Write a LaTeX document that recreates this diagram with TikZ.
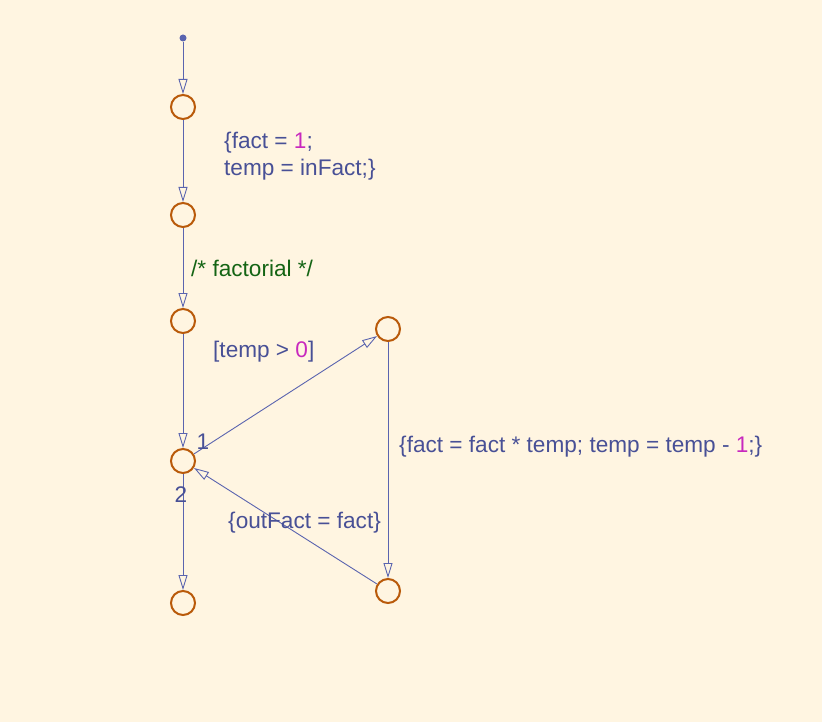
\documentclass[tikz,border=0pt]{standalone}
\usepackage{fontspec}
\setmainfont{Liberation Sans}
\usetikzlibrary{arrows.meta}
\definecolor{bg}{RGB}{255,245,225}
\definecolor{txt}{RGB}{72,80,150}
\definecolor{ln}{RGB}{90,100,175}
\definecolor{jn}{RGB}{185,90,10}
\definecolor{mag}{RGB}{200,40,190}
\definecolor{cmt}{RGB}{20,100,20}
\tikzset{
  junc/.style={circle,draw=jn,line width=2pt,minimum size=24pt,inner sep=0pt},
  tr/.style={draw=ln,line width=0.9pt,-{Triangle[open,length=15pt,width=9pt]}},
  lbl/.style={text=txt,inner sep=0pt,anchor=west,font=\fontsize{22.6}{26.5}\selectfont},
}
\begin{document}
\begin{tikzpicture}[x=1pt,y=-1pt]
\path[fill=bg,use as bounding box] (0,0) rectangle (822,722);
\node[circle,fill=ln,minimum size=7pt,inner sep=0pt] (dot) at (183,38) {};
\node[junc] (j1) at (183,107) {};
\node[junc] (j2) at (183,215) {};
\node[junc] (j3) at (183,321) {};
\node[junc] (j4) at (183,461) {};
\node[junc] (j5) at (183,603) {};
\node[junc] (jr) at (388,329) {};
\node[junc] (jb) at (388,591) {};
\draw[tr] (dot) -- (j1);
\draw[tr] (j1) -- (j2);
\draw[tr] (j2) -- (j3);
\draw[tr] (j3) -- (j4);
\draw[tr] (j4) -- (j5);
\draw[tr] (j4) -- (jr);
\draw[tr] (jr) -- (jb);
\draw[tr] (jb) -- (j4);
\node[lbl,align=left] (a1) at (224,156) {\{fact = \textcolor{mag}{1};\\temp = inFact;\}};
\node[lbl,text=cmt] (a2) at (191,268) {/* factorial */};
\node[lbl] (a3) at (213,352) {[temp > \textcolor{mag}{0}]};
\node[lbl] (a4) at (399,447) {\{fact = fact * temp; temp = temp - \textcolor{mag}{1};\}};
\node[lbl] (a5) at (228,523) {\{outFact = fact\}};
\node[lbl,anchor=center] (n1) at (203,442) {1};
\node[lbl,anchor=center] (n2) at (181,495) {2};
\end{tikzpicture}
\end{document}
